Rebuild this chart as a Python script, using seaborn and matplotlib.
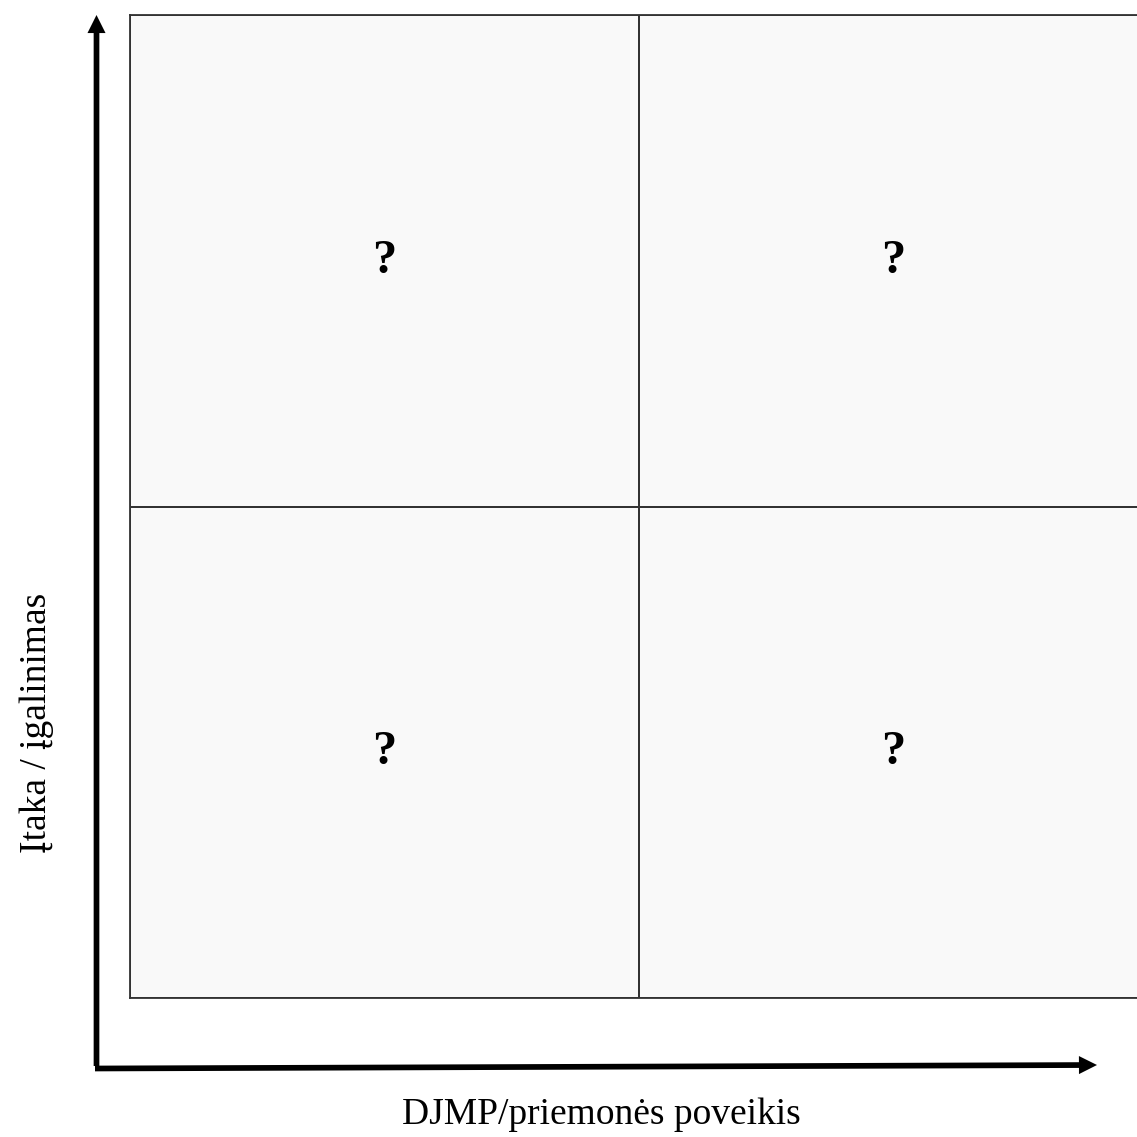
import numpy as np
import matplotlib.pyplot as plt
import seaborn as sns
from matplotlib.colors import ListedColormap
from matplotlib.patches import FancyArrowPatch

# Data

col_labels = ["žemas poveikis", "didelis poveikis"]
row_labels = ["didelė įtaka", "maža įtaka"]
cell_values = [[1, 1], [1, 1]]
cell_text = [["?", "?"], ["?", "?"]]

x_title = "DJMP/priemonės poveikis"
y_title = "Įtaka / įgalinimas"

# Figure

sns.set_style("white")
plt.rcParams["font.family"] = ["Liberation Serif", "DejaVu Serif"]
plt.rcParams["text.color"] = "black"

W = 1137
fig = plt.figure(figsize=(11.37, 11.37), dpi=100)

# grid of 4 cells, right edge runs a little past the picture
left, right, top, bottom = 130, 1148, 15, 998
ax = fig.add_axes([left / W, 1 - bottom / W, (right - left) / W, (bottom - top) / W])

sns.heatmap(
    np.array(cell_values),
    annot=np.array(cell_text),
    fmt="",
    cmap=ListedColormap(["#f9f9f9"]),
    cbar=False,
    linewidths=1.3,
    linecolor="#333333",
    annot_kws={"fontsize": 35, "fontweight": "bold", "color": "black"},
    xticklabels=False,
    yticklabels=False,
    ax=ax
)
for s in ax.spines.values():
    s.set_visible(True)
    s.set_color("#333333")
    s.set_linewidth(1.3)

# Axis arrows (figure pixels, origin bottom-left)

def arrow(x0, y0, x1, y1):
    a = FancyArrowPatch(
        (x0, W - y0), (x1, W - y1),
        transform=None,
        arrowstyle="simple,head_length=13,head_width=13,tail_width=4.1",
        mutation_scale=1,
        color="black",
        lw=0,
        shrinkA=0, shrinkB=0
    )
    fig.add_artist(a)

arrow(96.5, 1066, 96.5, 15)
arrow(95, 1068.5, 1097, 1065)

# Axis titles

fig.text(601 / W, 1 - 1124 / W, x_title, ha="center", va="baseline", fontsize=27)
fig.text(37 / W, 1 - 723 / W, y_title, ha="center", va="center", fontsize=27, rotation=90)

fig.savefig("out.png", dpi=100)
